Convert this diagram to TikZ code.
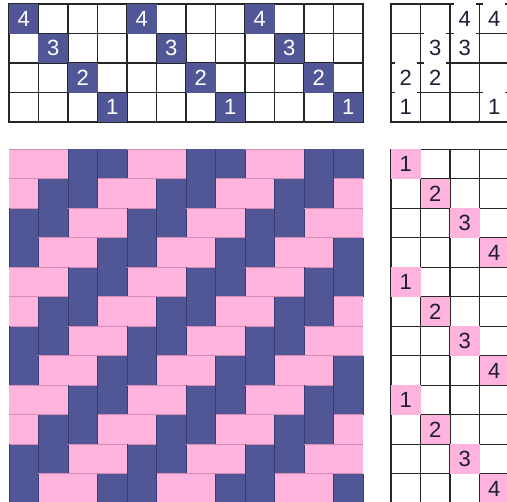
\documentclass[tikz,border=0pt]{standalone}
\usepackage{fontspec}
\setmainfont{Liberation Sans}
\definecolor{warpblue}{RGB}{80,86,150}
\definecolor{weftpink}{RGB}{255,180,222}
\definecolor{warpedge}{RGB}{56,60,112}
\definecolor{weftedge}{RGB}{214,140,178}
\definecolor{inkdark}{RGB}{30,30,50}
\tikzset{
  gridline/.style={draw=black!85, line width=1.3pt},
  cellnum/.style={inner sep=0pt, font=\fontsize{22}{22}\selectfont},
  warpline/.style={draw=warpedge, line width=0.9pt},
  weftline/.style={draw=weftedge, line width=0.9pt},
}
\begin{document}
\begin{tikzpicture}[x=29.5pt, y=-29.5pt]
\useasboundingbox (0,0) rectangle (17.186,16.983);
% threading
\begin{scope}[shift={(0.305,0.136)}]
\foreach \i in {1,...,11} \draw[gridline] (\i,0) -- (\i,4);
\foreach \j in {1,...,3} \draw[gridline] (0,\j) -- (12,\j);
\draw[gridline] (0,0) rectangle (12,4);
\foreach \c in {0,...,11} {
  \pgfmathtruncatemacro\r{mod(\c,4)}
  \pgfmathtruncatemacro\n{4-\r}
  \fill[warpblue] (\c,\r) rectangle ++(1,1);
  \node[cellnum, text=white] (th\c) at (\c+0.5,\r+0.5) {\n};
}
\end{scope}
% tie-up
\begin{scope}[shift={(13.254,0.136)}]
\foreach \i in {1,...,3} \draw[gridline] (\i,0) -- (\i,4);
\foreach \j in {1,...,3} \draw[gridline] (0,\j) -- (4,\j);
\draw[gridline] (0,0) rectangle (4,4);
\foreach \c/\r/\n in {2/0/4, 3/0/4, 1/1/3, 2/1/3, 0/2/2, 1/2/2, 0/3/1, 3/3/1} {
  \fill[white] (\c+0.13,\r-0.06) rectangle (\c+0.87,\r+0.3);
  \node[cellnum, text=inkdark] (tu\c\r) at (\c+0.5,\r+0.5) {\n};
}
\end{scope}
% treadling
\begin{scope}[shift={(13.254,5.061)}]
\foreach \i in {1,...,3} \draw[gridline] (\i,0) -- (\i,12);
\foreach \j in {1,...,11} \draw[gridline] (0,\j) -- (4,\j);
\draw[gridline] (0,0) rectangle (4,12);
\foreach \r in {0,...,11} {
  \pgfmathtruncatemacro\c{mod(\r,4)}
  \pgfmathtruncatemacro\n{\c+1}
  \fill[weftpink] (\c,\r) rectangle ++(1,1);
  \node[cellnum, text=inkdark] (tr\r) at (\c+0.5,\r+0.5) {\n};
}
\end{scope}
% drawdown
\begin{scope}[shift={(0.305,5.061)}]
\foreach \r in {0,...,11} \foreach \c in {0,...,11} {
  \pgfmathtruncatemacro\d{mod(11-mod(\c,4)-mod(\r,4),4)}
  \ifnum\d<2 \fill[warpblue] (\c,\r) rectangle ++(1,1);
  \else \fill[weftpink] (\c,\r) rectangle ++(1,1); \fi
}
\foreach \r in {0,...,11} \foreach \c in {0,...,11} {
  \pgfmathtruncatemacro\d{mod(11-mod(\c,4)-mod(\r,4),4)}
  \ifnum\d<2 \draw[warpline] (\c,\r) -- (\c,\r+1) (\c+1,\r) -- (\c+1,\r+1);
  \else \draw[weftline] (\c,\r) -- (\c+1,\r) (\c,\r+1) -- (\c+1,\r+1); \fi
}
\end{scope}
\end{tikzpicture}
\end{document}
